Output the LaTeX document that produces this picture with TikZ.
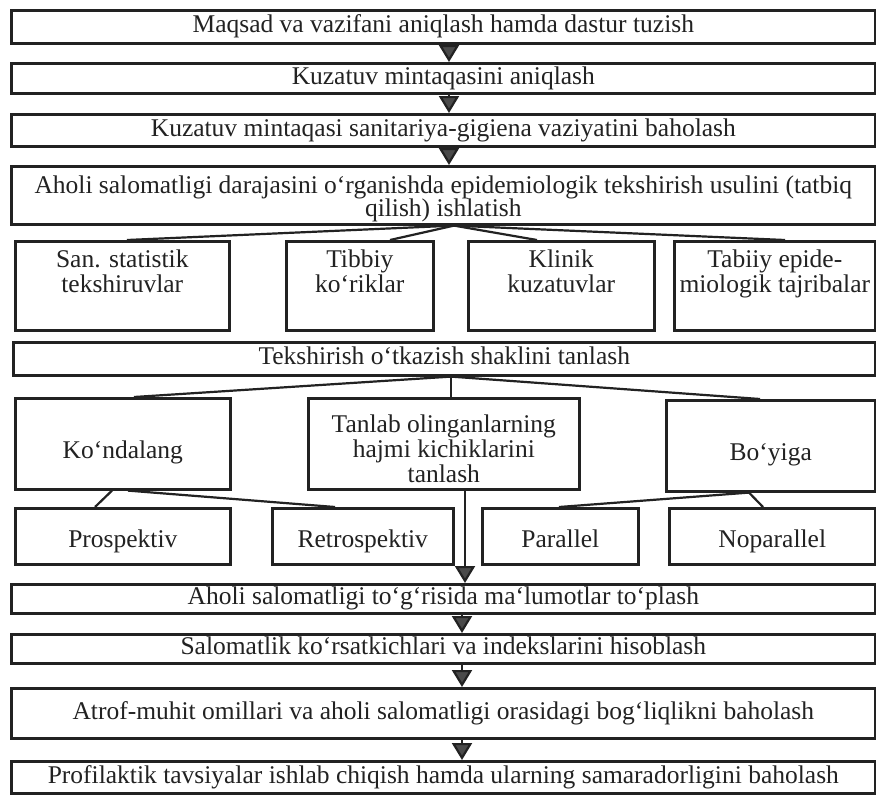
\documentclass[tikz,border=0pt]{standalone}
\usepackage{fontspec}
\setmainfont{Liberation Serif}
\usetikzlibrary{arrows.meta,calc}
\definecolor{ink}{HTML}{222222}
\definecolor{tri}{HTML}{4A4A4A}
\begin{document}
\begin{tikzpicture}[x=1pt,y=-1pt,
  box/.style={draw=ink, line width=2.6pt, inner sep=0pt, anchor=north west,
    font=\fontsize{25.5}{23}\selectfont, text=ink},
  sl/.style={text height=17.5pt, text depth=6pt},
  lbl/.style={font=\fontsize{25.5}{25}\selectfont, text=ink, align=center, inner sep=0pt},
  link/.style={draw=ink, line width=2.2pt},
  arr/.style={draw=ink, line width=2.2pt, -{Triangle[width=20pt,length=17pt,fill=tri]}}]
\useasboundingbox[fill=white] (0,0) rectangle (876,796);

% main column
\node[box, sl, minimum width=864pt, minimum height=33pt] (b1) at (10,9) {Maqsad va vazifani aniqlash hamda dastur tuzish};
\node[box, sl, minimum width=864pt, minimum height=30pt] (b2) at (10,62) {Kuzatuv mintaqasini aniqlash};
\node[box, sl, minimum width=864pt, minimum height=32pt] (b3) at (10,113) {Kuzatuv mintaqasi sanitariya-gigiena vaziyatini baholash};
\node[box, minimum width=864pt, minimum height=58pt] (b4) at (10,165) {};
\node[lbl] (b4t) at ($(b4.center)+(0,4)$) {Aholi salomatligi darajasini o‘rganishda epidemiologik tekshirish usulini (tatbiq\\[-2pt]qilish) ishlatish};

% four method boxes
\node[box, minimum width=214pt, minimum height=89pt] (m1) at (14,240) {};
\node[box, minimum width=147pt, minimum height=89pt] (m2) at (285,240) {};
\node[box, minimum width=186pt, minimum height=89pt] (m3) at (467,240) {};
\node[box, minimum width=201pt, minimum height=89pt] (m4) at (673,240) {};
\node[lbl, anchor=north] (m1t) at ($(m1.north)+(0,10)$) {San. statistik\\tekshiruvlar};
\node[lbl, anchor=north] (m2t) at ($(m2.north)+(0,10)$) {Tibbiy\\ko‘riklar};
\node[lbl, anchor=north] (m3t) at ($(m3.north)+(0,10)$) {Klinik\\kuzatuvlar};
\node[lbl, anchor=north] (m4t) at ($(m4.north)+(0,10)$) {Tabiiy epide-\\miologik tajribalar};

\node[box, sl, minimum width=862pt, minimum height=33pt] (t) at (12,341) {Tekshirish o‘tkazish shaklini tanlash};

% three form boxes
\node[box, minimum width=215pt, minimum height=91pt] (k) at (14,397) {};
\node[box, minimum width=271pt, minimum height=91pt] (c) at (307,397) {};
\node[box, minimum width=209pt, minimum height=91pt] (y) at (665,399) {};
\node[lbl, sl] (kt) at ($(k.center)+(0,9)$) {Ko‘ndalang};
\node[lbl] (ct) at ($(c.center)+(0,5)$) {Tanlab olinganlarning\\hajmi kichiklarini\\tanlash};
\node[lbl, sl] (yt) at ($(y.center)+(0,9)$) {Bo‘yiga};

% sub boxes
\node[box, minimum width=215pt, minimum height=56pt] (p1) at (14,507) {};
\node[box, minimum width=181pt, minimum height=56pt] (p2) at (271,507) {};
\node[box, minimum width=156pt, minimum height=56pt] (p3) at (481,507) {};
\node[box, minimum width=206pt, minimum height=56pt] (p4) at (668,507) {};
\node[lbl, sl] (p1t) at ($(p1.center)+(0,5)$) {Prospektiv};
\node[lbl, sl] (p2t) at ($(p2.center)+(0,5)$) {Retrospektiv};
\node[lbl, sl] (p3t) at ($(p3.center)+(0,5)$) {Parallel};
\node[lbl, sl] (p4t) at ($(p4.center)+(0,5)$) {Noparallel};

% lower column
\node[box, sl, minimum width=864pt, minimum height=29pt] (a) at (10,583) {Aholi salomatligi to‘g‘risida ma‘lumotlar to‘plash};
\node[box, sl, minimum width=864pt, minimum height=29pt] (s) at (10,633) {Salomatlik ko‘rsatkichlari va indekslarini hisoblash};
\node[box, sl, minimum width=864pt, minimum height=50pt] (f) at (10,687) {Atrof-muhit omillari va aholi salomatligi orasidagi bog‘liqlikni baholash};
\node[box, sl, minimum width=864pt, minimum height=32pt] (g) at (10,760) {Profilaktik tavsiyalar ishlab chiqish hamda ularning samaradorligini baholash};

% reference x positions
\coordinate (ax) at (449,0);
\coordinate (bx) at (454,0);
\coordinate (cx) at (451,0);
\coordinate (dx) at (465,0);
\coordinate (ex) at (462,0);

% arrows upper column
\draw[arr] (b1.south -| ax) -- (b2.north -| ax);
\draw[arr] (b2.south -| ax) -- (b3.north -| ax);
\draw[arr] (b3.south -| ax) -- (b4.north -| ax);

% fan to method boxes
\coordinate (f1) at (b4.south -| bx);
\draw[link] (f1) -- (m1.north -| 127,0);
\draw[link] (f1) -- (m2.north -| 390,0);
\draw[link] (f1) -- (m3.north -| 537,0);
\draw[link] (f1) -- (m4.north -| 785,0);

% fan to form boxes
\coordinate (f2) at (t.south -| cx);
\draw[link] (f2) -- (k.north -| 134,0);
\draw[link] (f2) -- (c.north -| cx);
\draw[link] (f2) -- (y.north -| 760,0);

% sub branches
\draw[link] (k.south -| 112,0) -- (p1.north -| 95,0);
\draw[link] (k.south -| 128,0) -- (p2.north -| 335,0);
\draw[link] (y.south -| 749,0) -- (p3.north -| 559,0);
\draw[link] (y.south -| 749,0) -- (p4.north -| 763,0);

% central arrow and lower column
\draw[arr] (c.south -| dx) -- (a.north -| dx);
\draw[arr] (a.south -| ex) -- (s.north -| ex);
\draw[arr] (s.south -| ex) -- (f.north -| ex);
\draw[arr] (f.south -| ex) -- (g.north -| ex);
\end{tikzpicture}
\end{document}
